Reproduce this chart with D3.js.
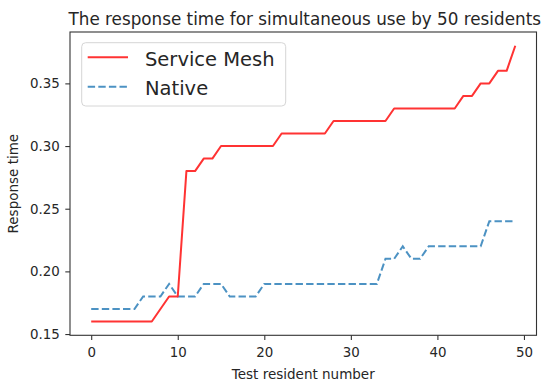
<!DOCTYPE html>
<html>
<head>
<meta charset="utf-8">
<script src="https://cdn.jsdelivr.net/npm/d3@7"></script>
<style>
  html, body { margin: 0; padding: 0; background: #fff; }
  svg { display: block; font-family: "DejaVu Sans", sans-serif; }
</style>
</head>
<body>
<div id="chart"></div>
<script>
// resident index on the x axis
const residents = [0, 1, 2, 3, 4, 5, 6, 7, 8, 9, 10, 11, 12, 13, 14, 15, 16, 17, 18, 19,
  20, 21, 22, 23, 24, 25, 26, 27, 28, 29, 30, 31, 32, 33, 34, 35, 36, 37, 38, 39,
  40, 41, 42, 43, 44, 45, 46, 47, 48, 49];

const serviceMesh = [0.16, 0.16, 0.16, 0.16, 0.16, 0.16, 0.16, 0.16, 0.17, 0.18,
  0.18, 0.28, 0.28, 0.29, 0.29, 0.30, 0.30, 0.30, 0.30, 0.30,
  0.30, 0.30, 0.31, 0.31, 0.31, 0.31, 0.31, 0.31, 0.32, 0.32,
  0.32, 0.32, 0.32, 0.32, 0.32, 0.33, 0.33, 0.33, 0.33, 0.33,
  0.33, 0.33, 0.33, 0.34, 0.34, 0.35, 0.35, 0.36, 0.36, 0.38];

const native = [0.17, 0.17, 0.17, 0.17, 0.17, 0.17, 0.18, 0.18, 0.18, 0.19,
  0.18, 0.18, 0.18, 0.19, 0.19, 0.19, 0.18, 0.18, 0.18, 0.18,
  0.19, 0.19, 0.19, 0.19, 0.19, 0.19, 0.19, 0.19, 0.19, 0.19,
  0.19, 0.19, 0.19, 0.19, 0.21, 0.21, 0.22, 0.21, 0.21, 0.22,
  0.22, 0.22, 0.22, 0.22, 0.22, 0.22, 0.24, 0.24, 0.24, 0.24];

const xTicks = [0, 10, 20, 30, 40, 50];
const yTicks = [0.15, 0.20, 0.25, 0.30, 0.35];

const seriesNames = ['Service Mesh', 'Native'];

const width = 550, height = 384;
const margin = { top: 32, right: 13.5, bottom: 48.7, left: 70 };
const innerW = width - margin.left - margin.right;
const innerH = height - margin.top - margin.bottom;

const svg = d3.select('#chart').append('svg')
  .attr('width', width)
  .attr('height', height);

// matplotlib-like 5% margins
const xPad = (d3.max(residents) - d3.min(residents)) * 0.05;
const allY = serviceMesh.concat(native);
const yPad = (d3.max(allY) - d3.min(allY)) * 0.05;

const x = d3.scaleLinear()
  .domain([d3.min(residents) - xPad, d3.max(residents) + xPad])
  .range([0, innerW]);

const y = d3.scaleLinear()
  .domain([d3.min(allY) - yPad, d3.max(allY) + yPad])
  .range([innerH, 0]);

const g = svg.append('g').attr('transform', `translate(${margin.left},${margin.top})`);

const textColor = '#262626';

// axes
const xAxis = g.append('g')
  .attr('transform', `translate(0,${innerH})`)
  .call(d3.axisBottom(x).tickValues(xTicks).tickSize(4.7).tickPadding(7).tickFormat(d3.format('d')));

const yAxis = g.append('g')
  .call(d3.axisLeft(y).tickValues(yTicks).tickSize(4.7).tickPadding(5.5).tickFormat(d3.format('.2f')));

[xAxis, yAxis].forEach(ax => {
  ax.select('.domain').remove();
  ax.selectAll('line').attr('stroke', '#333').attr('stroke-width', 1.1);
  ax.selectAll('text')
    .attr('fill', textColor)
    .style('font-size', '13.4px')
    .style('font-family', '"DejaVu Sans", sans-serif');
});

// frame
g.append('rect')
  .attr('width', innerW)
  .attr('height', innerH)
  .attr('fill', 'none')
  .attr('stroke', '#333')
  .attr('stroke-width', 1.1);

// lines
const line = d3.line()
  .x((d, i) => x(residents[i]))
  .y(d => y(d));

g.append('path')
  .datum(native)
  .attr('fill', 'none')
  .attr('stroke', '#4c92c3')
  .attr('stroke-width', 2)
  .attr('stroke-dasharray', '7.4,3.2')
  .attr('d', line);

g.append('path')
  .datum(serviceMesh)
  .attr('fill', 'none')
  .attr('stroke', '#ff3333')
  .attr('stroke-width', 2)
  .attr('stroke-linejoin', 'round')
  .attr('d', line);

// title + labels
svg.append('text')
  .attr('x', margin.left + innerW / 2 + 1.5)
  .attr('y', 25)
  .attr('text-anchor', 'middle')
  .attr('fill', textColor)
  .style('font-size', '16.8px')
  .text('The response time for simultaneous use by 50 residents');

svg.append('text')
  .attr('x', margin.left + innerW / 2)
  .attr('y', 379)
  .attr('text-anchor', 'middle')
  .attr('fill', textColor)
  .style('font-size', '13.5px')
  .text('Test resident number');

svg.append('text')
  .attr('transform', `translate(18,${margin.top + innerH / 2}) rotate(-90)`)
  .attr('text-anchor', 'middle')
  .attr('fill', textColor)
  .style('font-size', '13.5px')
  .text('Response time');

// legend
const legend = g.append('g').attr('transform', 'translate(11.7,10.7)');
legend.append('rect')
  .attr('width', 204)
  .attr('height', 63.3)
  .attr('rx', 4)
  .attr('fill', 'rgba(255,255,255,0.8)')
  .attr('stroke', '#d6d6d6')
  .attr('stroke-width', 1);

const legendStyles = [
  { color: '#ff3333', dash: null },
  { color: '#4c92c3', dash: '7.4,3.2' }
];

seriesNames.forEach((name, i) => {
  const row = legend.append('g').attr('transform', `translate(0,${14.6 + i * 29.4})`);
  row.append('line')
    .attr('x1', 6).attr('x2', 46.3)
    .attr('y1', 0).attr('y2', 0)
    .attr('stroke', legendStyles[i].color)
    .attr('stroke-width', 2)
    .attr('stroke-dasharray', legendStyles[i].dash);
  row.append('text')
    .attr('x', 63.3)
    .attr('y', 8.5)
    .attr('fill', textColor)
    .style('font-size', '19.5px')
    .text(name);
});
</script>
</body>
</html>
